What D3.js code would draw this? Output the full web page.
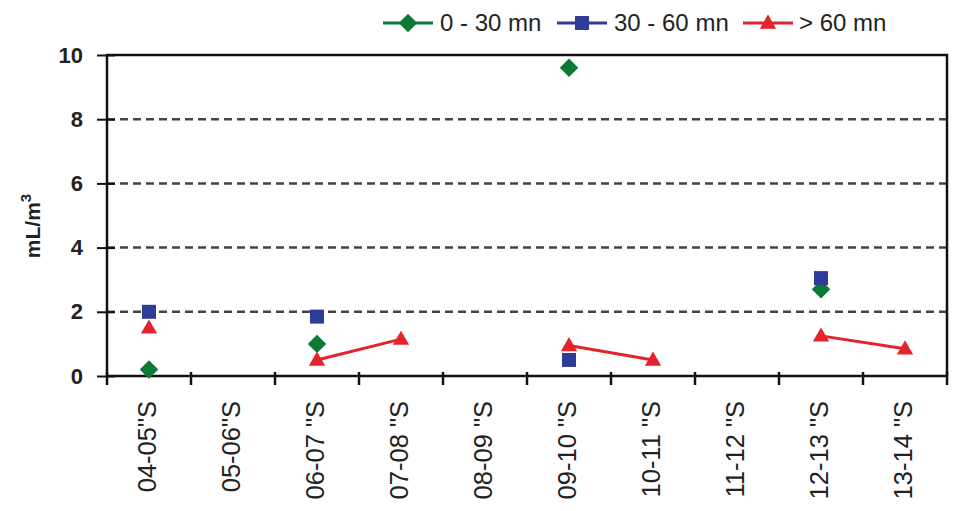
<!DOCTYPE html>
<html>
<head>
<meta charset="utf-8">
<script src="https://cdn.jsdelivr.net/npm/d3@7/dist/d3.min.js"></script>
<style>
  body { margin: 0; background: #fff; }
  svg { display: block; font-family: "Liberation Sans", Arial, sans-serif; }
</style>
</head>
<body>
<svg></svg>
<script>
let categories = ["04-05\"S", "05-06\"S", "06-07 \"S", "07-08 \"S", "08-09 \"S", "09-10 \"S", "10-11 \"S", "11-12 \"S", "12-13 \"S", "13-14 \"S"];
let short = [0.2, null, 1.0, null, null, 9.6, null, null, 2.7, null];
let mid = [2.0, null, 1.85, null, null, 0.5, null, null, 3.05, null];
let long = [1.5, null, 0.5, 1.15, null, 0.95, 0.5, null, 1.25, 0.85];
let yTicks = [0, 2, 4, 6, 8, 10];
let seriesNames = ["0 - 30 mn", "30 - 60 mn", "> 60 mn"];

let width = 955;
let height = 511;
let plotLeft = 107, plotRight = 947, plotTop = 55, plotBottom = 376;

let svg = d3.select("svg").attr("width", width).attr("height", height);

let xScale = d3.scaleBand().domain(categories).range([plotLeft, plotRight]);
let yScale = d3.scaleLinear().domain([0, 10]).range([plotBottom, plotTop]);
let cx = (c) => xScale(c) + xScale.bandwidth() / 2;

let series = [
    { name: seriesNames[0], values: short, color: "#0b7a34", shape: "diamond" },
    { name: seriesNames[1], values: mid, color: "#2c3c98", shape: "square" },
    { name: seriesNames[2], values: long, color: "#e5232c", shape: "triangle" }
];

let marker = (g, shape, color) => {
    if (shape == "diamond") {
        g.append("path").attr("d", d3.symbol(d3.symbolSquare, 170)()).attr("transform", "rotate(45)").attr("fill", color);
    } else if (shape == "square") {
        g.append("path").attr("d", d3.symbol(d3.symbolSquare, 196)()).attr("fill", color);
    } else {
        g.append("path").attr("d", d3.symbol(d3.symbolTriangle, 115)()).attr("transform", "translate(0,1)").attr("fill", color);
    }
};

// gridlines
svg.append("g")
    .selectAll("line")
    .data(yTicks.filter(t => t > 0 && t < 10))
    .enter()
    .append("line")
    .attr("x1", plotLeft).attr("x2", plotRight)
    .attr("y1", d => yScale(d)).attr("y2", d => yScale(d))
    .attr("stroke", "#444")
    .attr("stroke-width", 2.5)
    .attr("stroke-dasharray", "8,5");

// frame
svg.append("rect")
    .attr("x", plotLeft).attr("y", plotTop)
    .attr("width", plotRight - plotLeft).attr("height", plotBottom - plotTop)
    .attr("fill", "none").attr("stroke", "#111").attr("stroke-width", 2.5);

// y axis
let yAxis = d3.axisLeft(yScale).tickValues(yTicks).tickSize(10).tickPadding(14);
let yg = svg.append("g").attr("transform", "translate(" + plotLeft + ",0)").call(yAxis);
yg.select(".domain").remove();
yg.selectAll(".tick line").attr("stroke", "#111").attr("stroke-width", 2).attr("x2", -10).attr("x1", 8);
yg.selectAll("text").attr("font-size", 22).attr("font-weight", "bold").attr("fill", "#222")
    .attr("font-family", "Liberation Sans, Arial, sans-serif");

// y title
let title = svg.append("text")
    .attr("transform", "translate(40,226) rotate(-90)")
    .attr("text-anchor", "middle")
    .attr("font-size", 21).attr("font-weight", "bold").attr("fill", "#222");
title.append("tspan").text("mL/m");
title.append("tspan").attr("font-size", 15).attr("dy", -9).text("3");

// x ticks at category boundaries
let boundaries = categories.map(c => xScale(c)).concat([plotRight]);
svg.append("g")
    .selectAll("line")
    .data(boundaries)
    .enter()
    .append("line")
    .attr("x1", d => d).attr("x2", d => d)
    .attr("y1", plotBottom - 4).attr("y2", plotBottom + 9)
    .attr("stroke", "#111").attr("stroke-width", 2.5);

// x labels
svg.append("g")
    .selectAll("text")
    .data(categories)
    .enter()
    .append("text")
    .attr("transform", d => "translate(" + (cx(d) - 2) + ",401) rotate(-90)")
    .attr("text-anchor", "end")
    .attr("dy", "0.35em")
    .attr("font-size", 25.5)
    .attr("fill", "#222")
    .text(d => d);

// lines
let line = d3.line()
    .defined(d => d.v != null)
    .x(d => cx(d.c))
    .y(d => yScale(d.v));

series.forEach(s => {
    let pts = categories.map((c, i) => ({ c: c, v: s.values[i] }));
    svg.append("path")
        .datum(pts)
        .attr("d", line)
        .attr("fill", "none")
        .attr("stroke", s.color)
        .attr("stroke-width", 3);
});

// markers
series.forEach(s => {
    let pts = categories.map((c, i) => ({ c: c, v: s.values[i] })).filter(d => d.v != null);
    svg.append("g")
        .selectAll("g")
        .data(pts)
        .enter()
        .append("g")
        .attr("transform", d => "translate(" + cx(d.c) + "," + yScale(d.v) + ")")
        .each(function () { marker(d3.select(this), s.shape, s.color); });
});

// legend
let legendX = [383, 557, 743];
let legend = svg.append("g");
series.forEach((s, i) => {
    let g = legend.append("g").attr("transform", "translate(" + legendX[i] + ",23)");
    g.append("line").attr("x1", 0).attr("x2", 50).attr("stroke", s.color).attr("stroke-width", 3);
    let m = g.append("g").attr("transform", "translate(25,0)");
    marker(m, s.shape, s.color);
    g.append("text").attr("x", i == 2 ? 56 : 57).attr("dy", "0.35em")
        .attr("font-size", 24).attr("fill", "#222").text(s.name);
});
</script>
</body>
</html>
